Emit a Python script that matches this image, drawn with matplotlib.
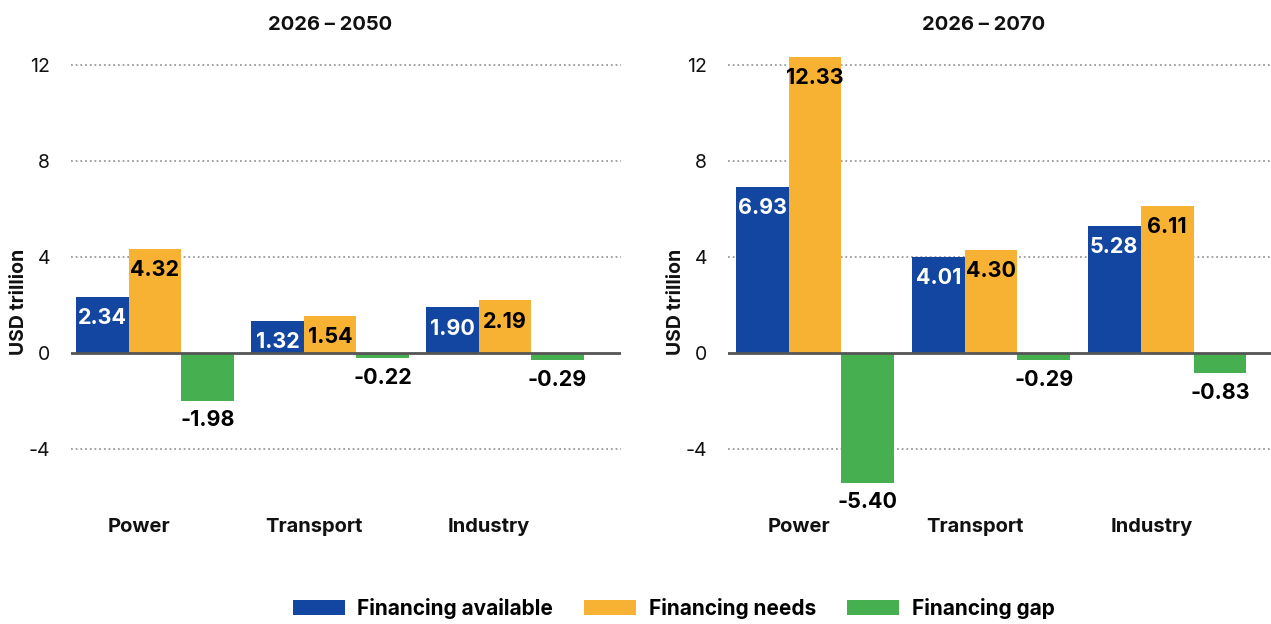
import matplotlib
matplotlib.use("Agg")
import matplotlib.pyplot as plt
import numpy as np

# Data (USD trillion)
sectors = ["Power", "Transport", "Industry"]
series_names = ["Financing available", "Financing needs", "Financing gap"]
available_2050 = [2.34, 1.32, 1.90]
needs_2050 = [4.32, 1.54, 2.19]
gap_2050 = [-1.98, -0.22, -0.29]
available_2070 = [6.93, 4.01, 5.28]
needs_2070 = [12.33, 4.30, 6.11]
gap_2070 = [-5.40, -0.29, -0.83]
panel_titles = ["2026 \u2013 2050", "2026 \u2013 2070"]
y_ticks = [-4, 0, 4, 8, 12]

colors = ["#1246A0", "#F7B234", "#46B050"]
label_colors = ["white", "black", "black"]

plt.rcParams["font.family"] = ["Inter", "DejaVu Sans"]

fig = plt.figure(figsize=(12.71, 6.24), dpi=100)
ax_left = fig.add_axes([71 / 1271, 84 / 624, 550 / 1271, 500 / 624])
ax_right = fig.add_axes([728 / 1271, 84 / 624, 543 / 1271, 500 / 624])

panels = [
    (ax_left, [available_2050, needs_2050, gap_2050], panel_titles[0], (-0.48, 2.663)),
    (ax_right, [available_2070, needs_2070, gap_2070], panel_titles[1], (-0.494, 2.59)),
]

width = 0.30
x = np.arange(len(sectors))
handles = []

for ax, series, title, xlim in panels:
    ax.set_xlim(*xlim)
    ax.set_ylim(-7.79, 13.04)
    for yv in y_ticks:
        if yv == 0:
            continue
        ax.axhline(yv, color="#9a9a9a", lw=1.3, ls=(0, (1, 1.6)), zorder=0)
    bars_all = []
    for i, (vals, col, lc) in enumerate(zip(series, colors, label_colors)):
        pos = x + (i - 1) * width
        bars = ax.bar(pos, vals, width=width, color=col, zorder=2,
                      label=series_names[i])
        bars_all.append(bars)
        for xp, v in zip(pos, vals):
            offset = -8 if v >= 0 else -7
            ax.annotate(f"{v:.2f}", (xp, v), xytext=(0, offset),
                        textcoords="offset points", ha="center", va="top",
                        fontsize=15.5, fontweight="bold", color=lc, zorder=3)
    if not handles:
        handles = bars_all
    ax.axhline(0, color="#555555", lw=2, zorder=4)

    for spine in ax.spines.values():
        spine.set_visible(False)
    ax.set_xticks([])
    ax.set_yticks(y_ticks)
    ax.set_yticklabels([str(t) for t in y_ticks], fontsize=14, color="#111111")
    ax.tick_params(axis="y", length=0, pad=15)

    for xi, name in zip(x, sectors):
        ax.text(xi - 0.09, 0.026, name, transform=ax.get_xaxis_transform(),
                ha="center", va="center", fontsize=14.5, fontweight="bold",
                color="#111111")

    ax.text(0.471, 1.03, title, transform=ax.transAxes, ha="center",
            va="center", fontsize=14.5, fontweight="bold", color="#111111")
    ax.text(-0.095, 0.476, "USD trillion", transform=ax.transAxes,
            rotation=90, ha="center", va="center", fontsize=14,
            fontweight="bold", color="#111111")

fig.legend(handles=handles, labels=series_names, loc="center",
           bbox_to_anchor=(0.53, 0.025), ncol=3, frameon=False,
           prop={"weight": "bold", "size": 15},
           handlelength=2.5, handleheight=0.75, handletextpad=0.6,
           columnspacing=1.5)

fig.savefig("out.png", dpi=100)
